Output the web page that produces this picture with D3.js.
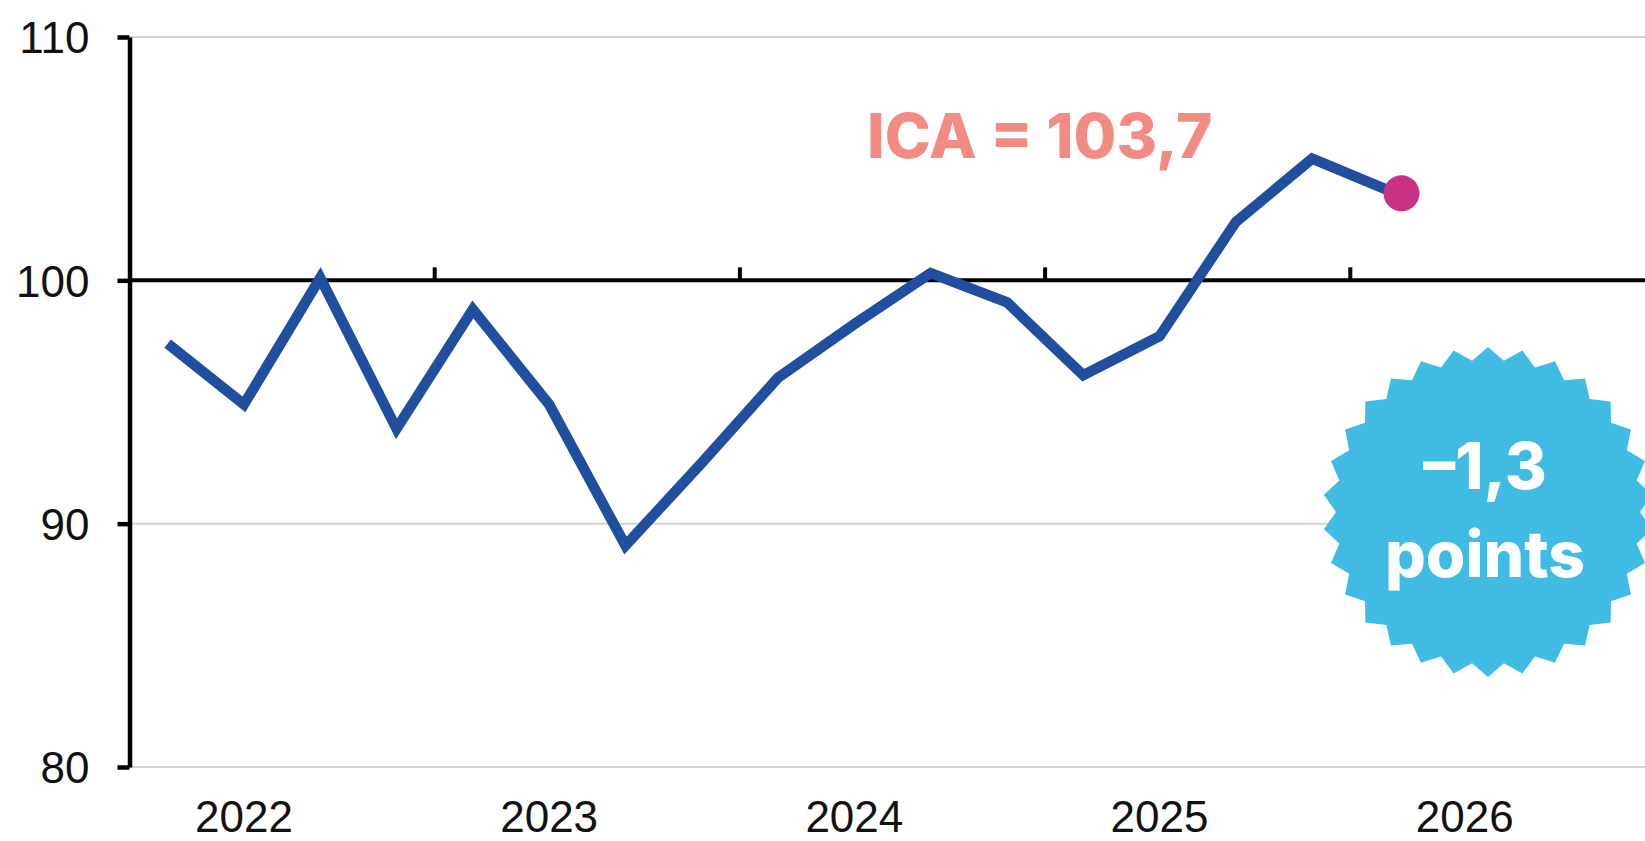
<html>
<head>
    <script src="https://d3js.org/d3.v7.min.js"></script>
</head>
<style>
body { margin: 0; background: #fff; }
.axis text { font-family: "Liberation Sans", Arial, sans-serif; font-size: 44px; fill: #111; }
</style>
<body>
<script>

// quarterly values, 2022 Q1 -> 2026 Q1
var quarters = ["2022T1","2022T2","2022T3","2022T4","2023T1","2023T2","2023T3","2023T4",
                "2024T1","2024T2","2024T3","2024T4","2025T1","2025T2","2025T3","2025T4","2026T1"];
var ica = [97.4, 94.9, 100.1, 93.9, 98.8, 94.9, 89.1, 92.5,
           96.0, 98.2, 100.3, 99.1, 96.1, 97.7, 102.4, 105.0, 103.7];
var years = [2022, 2023, 2024, 2025, 2026];
var yTicks = [80, 90, 100, 110];
var lastLabel = "ICA = 103,7";
var badgeLines = ["–1,3", "points"];

var width = 1645, height = 841;

// set the ranges (one unit = one quarter)
var x = d3.scaleLinear()
          .domain([0, 20])
          .range([129.5, 129.5 + 20 * 76.3]);
var y = d3.scaleLinear()
          .domain([80, 110])
          .range([767, 37]);

var svg = d3.select("body").append("svg")
    .attr("width", width)
    .attr("height", height);

// light gridlines
svg.append("g")
  .selectAll("line")
    .data(yTicks.filter(function(d) { return d != 100; }))
  .enter().append("line")
    .attr("x1", x(0)).attr("x2", width)
    .attr("y1", function(d) { return y(d); })
    .attr("y2", function(d) { return y(d); })
    .attr("stroke", "#d3d3d3")
    .attr("stroke-width", 2);

// base line at 100 with year separators
svg.append("line")
    .attr("x1", x(0)).attr("x2", width)
    .attr("y1", y(100)).attr("y2", y(100))
    .attr("stroke", "#000")
    .attr("stroke-width", 4);

svg.append("g")
  .selectAll("line")
    .data(years.slice(1))
  .enter().append("line")
    .attr("x1", function(d, i) { return x(4 * (i + 1)); })
    .attr("x2", function(d, i) { return x(4 * (i + 1)); })
    .attr("y1", y(100))
    .attr("y2", y(100) - 13)
    .attr("stroke", "#000")
    .attr("stroke-width", 4);

// y axis
var yAxis = svg.append("g")
    .attr("class", "axis")
    .attr("transform", "translate(" + x(0) + ",0)")
    .call(d3.axisLeft(y).tickValues(yTicks).tickSize(12).tickSizeOuter(0).tickPadding(28));
yAxis.select(".domain").attr("stroke", "#000").attr("stroke-width", 4.5);
yAxis.selectAll(".tick line").attr("stroke", "#000").attr("stroke-width", 4.5);
yAxis.selectAll(".tick text").attr("dy", "0.36em");

// year labels
svg.append("g")
    .attr("class", "axis")
  .selectAll("text")
    .data(years)
  .enter().append("text")
    .attr("x", function(d, i) { return x(4 * i + 1.5); })
    .attr("y", 832)
    .attr("text-anchor", "middle")
    .text(function(d) { return d; });

// the ICA line
var line = d3.line()
    .x(function(d, i) { return x(i + 0.5); })
    .y(function(d) { return y(d); });

svg.append("path")
    .datum(ica)
    .attr("d", line)
    .attr("fill", "none")
    .attr("stroke", "#1f4f9e")
    .attr("stroke-width", 10.5)
    .attr("stroke-linejoin", "miter");

var n = ica.length - 1;
svg.append("circle")
    .attr("cx", x(n + 0.5) + 13)
    .attr("cy", y(ica[n]) + 3)
    .attr("r", 18)
    .attr("fill", "#c93283");

svg.append("text")
    .attr("x", 867)
    .attr("y", 158)
    .style("font-family", "Inter, 'Open Sans', sans-serif")
    .style("font-weight", 800)
    .style("font-size", "62px")
    .attr("fill", "#f28b82")
    .text(lastLabel);

// starburst badge
var cx = 1488, cy = 512, spikes = 30, rOut = 165, rIn = 152;
var pts = d3.range(spikes * 2).map(function(i) {
    var a = i * Math.PI / spikes;
    var r = i % 2 == 0 ? rOut : rIn;
    return [cx + r * Math.sin(a), cy - r * Math.cos(a)];
});
svg.append("path")
    .attr("d", "M" + pts.join("L") + "Z")
    .attr("fill", "#40bbe4");

svg.append("g")
  .selectAll("text")
    .data(badgeLines)
  .enter().append("text")
    .attr("x", cx - 3)
    .attr("y", function(d, i) { return 489 + i * 88; })
    .attr("text-anchor", "middle")
    .style("font-family", "Inter, 'Open Sans', sans-serif")
    .style("font-weight", 800)
    .style("font-size", "64px")
    .attr("fill", "#fff")
    .text(function(d) { return d; });

</script>
</body>
</html>
